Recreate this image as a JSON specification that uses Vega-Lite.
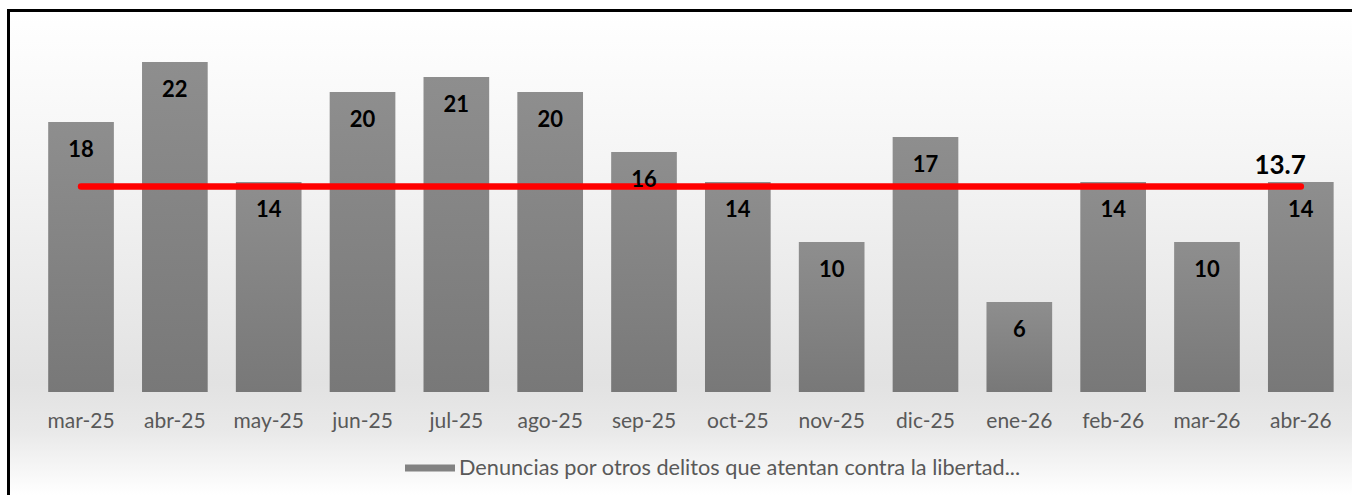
{
  "$schema": "https://vega.github.io/schema/vega-lite/v6.json",
  "width": 1344,
  "height": 485,
  "autosize": {"type": "none"},
  "padding": {"left": 8, "top": 10, "right": 0, "bottom": 0},
  "background": "#ffffff",
  "config": {
    "font": "Lato",
    "view": {
      "stroke": null,
      "fill": {
        "gradient": "linear",
        "x1": 0, "y1": 0, "x2": 0, "y2": 1,
        "stops": [
          {"offset": 0, "color": "#ffffff"},
          {"offset": 0.3, "color": "#f5f5f5"},
          {"offset": 0.77, "color": "#e2e2e2"},
          {"offset": 0.87, "color": "#e9e9e9"},
          {"offset": 1, "color": "#ffffff"}
        ]
      }
    }
  },
  "data": {
    "values": [
      {"mes": "mar-25", "valor": 18, "promedio": 13.7, "serie": "Denuncias por otros delitos que atentan contra la libertad..."},
      {"mes": "abr-25", "valor": 22, "promedio": 13.7, "serie": "Denuncias por otros delitos que atentan contra la libertad..."},
      {"mes": "may-25", "valor": 14, "promedio": 13.7, "serie": "Denuncias por otros delitos que atentan contra la libertad..."},
      {"mes": "jun-25", "valor": 20, "promedio": 13.7, "serie": "Denuncias por otros delitos que atentan contra la libertad..."},
      {"mes": "jul-25", "valor": 21, "promedio": 13.7, "serie": "Denuncias por otros delitos que atentan contra la libertad..."},
      {"mes": "ago-25", "valor": 20, "promedio": 13.7, "serie": "Denuncias por otros delitos que atentan contra la libertad..."},
      {"mes": "sep-25", "valor": 16, "promedio": 13.7, "serie": "Denuncias por otros delitos que atentan contra la libertad..."},
      {"mes": "oct-25", "valor": 14, "promedio": 13.7, "serie": "Denuncias por otros delitos que atentan contra la libertad..."},
      {"mes": "nov-25", "valor": 10, "promedio": 13.7, "serie": "Denuncias por otros delitos que atentan contra la libertad..."},
      {"mes": "dic-25", "valor": 17, "promedio": 13.7, "serie": "Denuncias por otros delitos que atentan contra la libertad..."},
      {"mes": "ene-26", "valor": 6, "promedio": 13.7, "serie": "Denuncias por otros delitos que atentan contra la libertad..."},
      {"mes": "feb-26", "valor": 14, "promedio": 13.7, "serie": "Denuncias por otros delitos que atentan contra la libertad..."},
      {"mes": "mar-26", "valor": 10, "promedio": 13.7, "serie": "Denuncias por otros delitos que atentan contra la libertad..."},
      {"mes": "abr-26", "valor": 14, "promedio": 13.7, "serie": "Denuncias por otros delitos que atentan contra la libertad..."}
    ]
  },
  "resolve": {"axis": {"x": "independent", "y": "independent"}},
  "layer": [
    {
      "mark": {"type": "bar", "opacity": 0},
      "encoding": {
        "x": {
          "field": "mes",
          "type": "nominal",
          "sort": null,
          "scale": {"paddingInner": 0.3, "paddingOuter": 0.312, "align": 0.6865},
          "axis": null
        },
        "y": {
          "field": "valor",
          "type": "quantitative",
          "scale": {"domain": [-6.867, 25.467], "nice": false, "zero": false},
          "axis": {
            "orient": "left",
            "title": null,
            "labels": false,
            "ticks": false,
            "grid": false,
            "domain": true,
            "domainColor": "#000000",
            "domainWidth": 3,
            "domainCap": "square"
          }
        },
        "y2": {"datum": 0},
        "fill": {
          "field": "serie",
          "type": "nominal",
          "scale": {"range": ["#828282"]},
          "legend": {
            "orient": "none",
            "legendX": 397,
            "legendY": 433,
            "title": null,
            "padding": 0,
            "symbolType": "M-1,-0.14H1V0.14H-1Z",
            "symbolSize": 2500,
            "symbolStrokeWidth": 0,
            "symbolOpacity": 1,
            "labelFont": "Lato",
            "labelFontSize": 21.7,
            "labelColor": "#595959",
            "labelOffset": 4,
            "labelLimit": 1000
          }
        }
      }
    },
    {
      "mark": {
        "type": "bar",
        "color": {
          "gradient": "linear",
          "x1": 0, "y1": 0, "x2": 0, "y2": 1,
          "stops": [
            {"offset": 0, "color": "#8e8e8e"},
            {"offset": 1, "color": "#787878"}
          ]
        }
      },
      "encoding": {
        "x": {
          "field": "mes",
          "type": "nominal",
          "sort": null,
          "axis": {
            "orient": "bottom",
            "title": null,
            "labelAngle": 0,
            "ticks": false,
            "tickSize": 0,
            "domain": false,
            "grid": false,
            "offset": -103,
            "labelPadding": 18,
            "labelFont": "Lato",
            "labelFontSize": 21,
            "labelColor": "#595959"
          }
        },
        "y": {"field": "valor", "type": "quantitative", "axis": null},
        "y2": {"datum": 0}
      }
    },
    {
      "mark": {"type": "line", "color": "#ff0000", "strokeWidth": 6.5, "strokeCap": "round"},
      "encoding": {
        "x": {
          "field": "mes",
          "type": "nominal",
          "sort": null,
          "axis": {
            "orient": "top",
            "title": null,
            "labels": false,
            "ticks": false,
            "grid": false,
            "domain": true,
            "domainColor": "#000000",
            "domainWidth": 3,
            "domainCap": "square"
          }
        },
        "y": {"field": "promedio", "type": "quantitative", "axis": null}
      }
    },
    {
      "mark": {"type": "text", "baseline": "middle", "dy": 28, "font": "Lato", "fontSize": 22, "fontWeight": "bold", "color": "#000000"},
      "encoding": {
        "x": {"field": "mes", "type": "nominal", "sort": null, "axis": null},
        "y": {"field": "valor", "type": "quantitative", "axis": null},
        "text": {"field": "valor", "type": "quantitative"}
      }
    },
    {
      "transform": [{"filter": "datum.mes == 'abr-26'"}],
      "mark": {"type": "text", "baseline": "middle", "align": "right", "dx": 5, "dy": -21, "font": "Lato", "fontSize": 26, "fontWeight": "bold", "color": "#000000"},
      "encoding": {
        "x": {"field": "mes", "type": "nominal", "sort": null, "axis": null},
        "y": {"field": "promedio", "type": "quantitative", "axis": null},
        "text": {"field": "promedio", "type": "quantitative", "format": ".1f"}
      }
    }
  ]
}
